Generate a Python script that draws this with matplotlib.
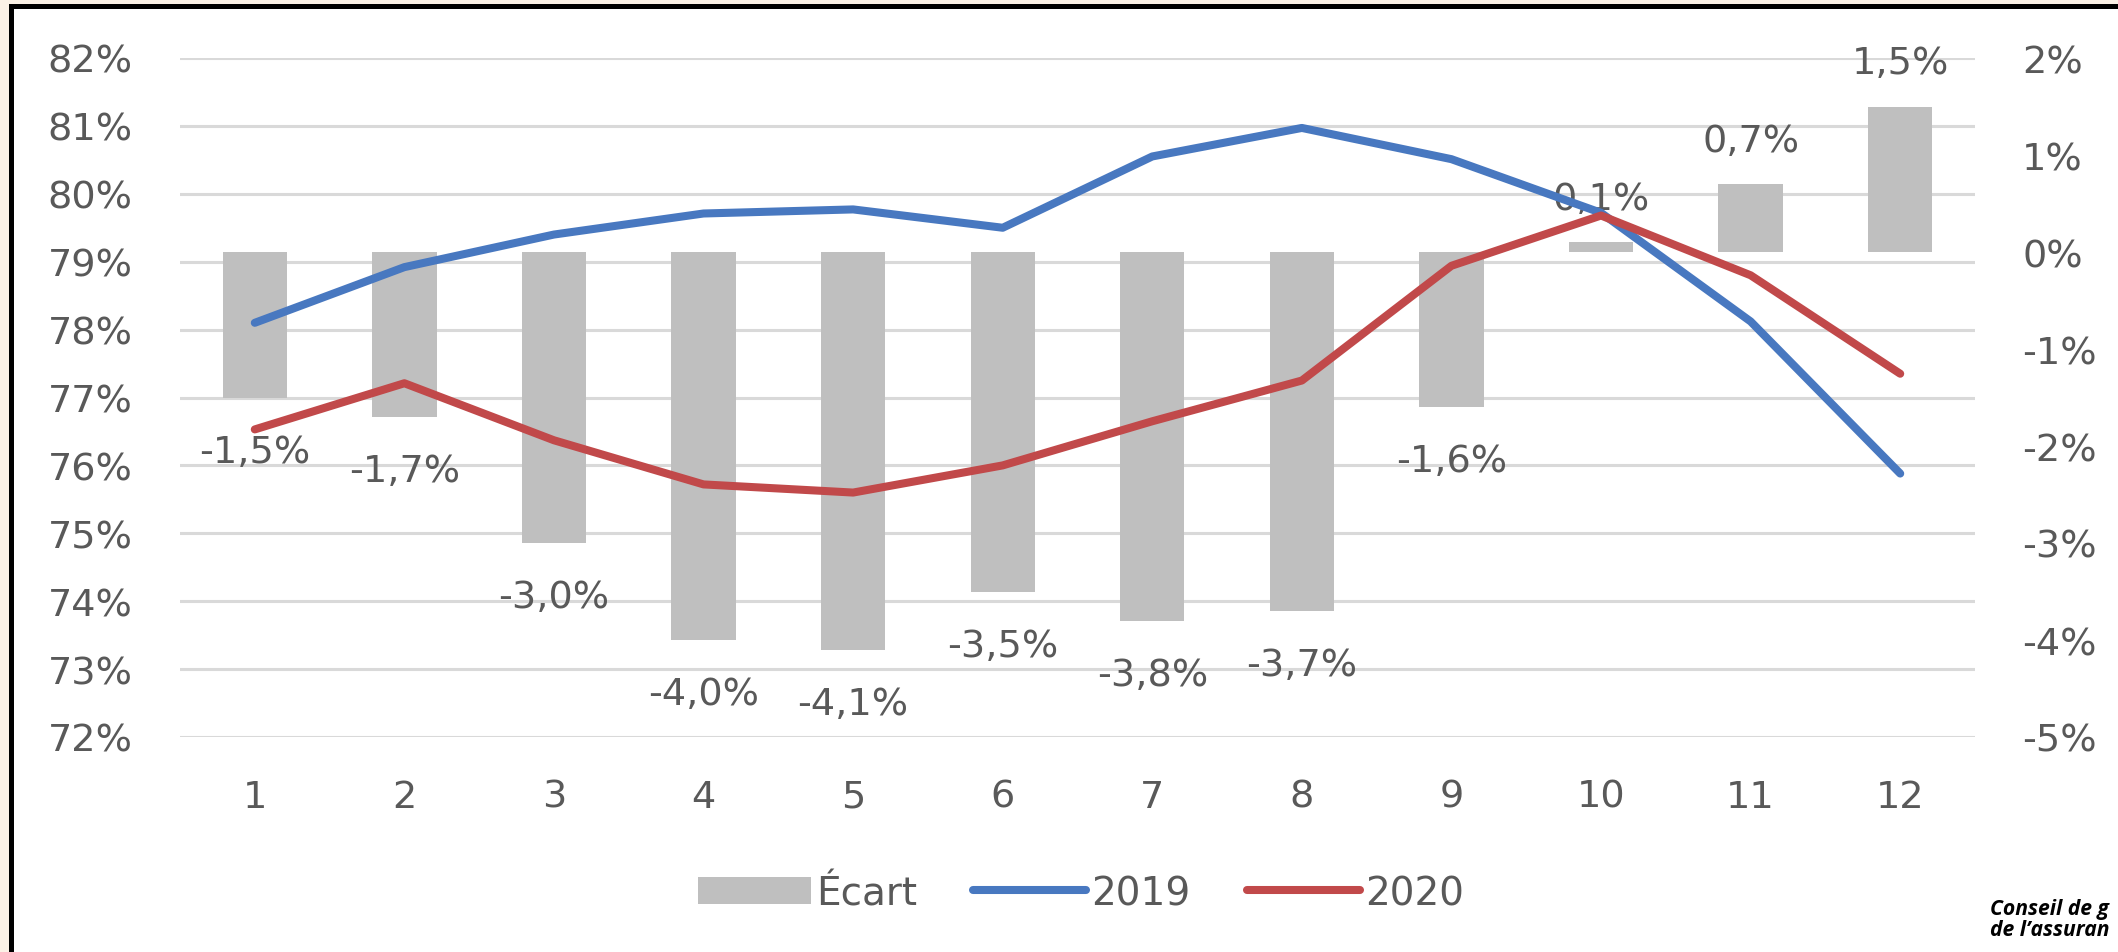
import matplotlib
matplotlib.use('Agg')
import matplotlib.pyplot as plt
from matplotlib.patches import Rectangle, Patch
from matplotlib.lines import Line2D
import matplotlib.ticker as mticker

# ---- data ----
months = ['1', '2', '3', '4', '5', '6', '7', '8', '9', '10', '11', '12']
taux_2019 = [78.10, 78.92, 79.40, 79.71, 79.77, 79.50, 80.55, 80.97, 80.51, 79.72, 78.12, 75.88]
taux_2020 = [76.53, 77.21, 76.37, 75.72, 75.60, 76.00, 76.65, 77.25, 78.94, 79.68, 78.80, 77.35]
ecart = [-1.5, -1.7, -3.0, -4.0, -4.1, -3.5, -3.8, -3.7, -1.6, 0.1, 0.7, 1.5]
left_ticks = [72, 73, 74, 75, 76, 77, 78, 79, 80, 81, 82]
right_ticks = [-5, -4, -3, -2, -1, 0, 1, 2]
series_labels = ['Écart', '2019', '2020']
source_lines = ['Conseil de g', 'de l’assuran']

# ---- style ----
W, H = 2118, 953
DPI = 100
BLUE = '#4878C0'
RED = '#C1494A'
BARC = '#BFBFBF'
GRID = '#D9D9D9'
TXT = '#595959'
FONT = ['DejaVu Sans']
FS = 27.5

fig = plt.figure(figsize=(W / DPI, H / DPI), dpi=DPI)
fig.patch.set_facecolor('#FBF1E6')

# white frame with black border
frame = Rectangle((10.5 / W, -0.1), 1.2, 1.1 - 7 / H, transform=fig.transFigure,
                  facecolor='white', edgecolor='black', linewidth=3.6, zorder=-5)
fig.add_artist(frame)

left = 180 / W
right = 1975 / W
top = 1 - 59 / H
bottom = 1 - 738 / H
ax = fig.add_axes([left, bottom, right - left, top - bottom])
ax2 = ax.twinx()
ax3 = ax.twinx()
for a in (ax, ax2, ax3):
    a.set_facecolor('none')
    for s in a.spines.values():
        s.set_visible(False)

x = list(range(len(months)))

# left axis: gridlines + ticks
ax.set_ylim(left_ticks[0], left_ticks[-1])
ax.set_yticks(left_ticks)
ax.yaxis.set_major_formatter(mticker.FuncFormatter(lambda v, p: f"{v:.0f}%"))
ax.grid(axis='y', color=GRID, linewidth=2.2)
ax.set_axisbelow(True)
ax.set_xlim(-0.5, len(months) - 0.5)
ax.set_xticks(x)
ax.set_xticklabels(months)
ax.tick_params(axis='y', length=0, pad=34, labelsize=FS, labelcolor=TXT)
ax.tick_params(axis='x', length=0, pad=30, labelsize=FS, labelcolor=TXT)
for lab in ax.get_yticklabels() + ax.get_xticklabels():
    lab.set_family(FONT)

# right axis: bars
ax2.set_ylim(right_ticks[0], right_ticks[-1])
ax2.set_yticks(right_ticks)
ax2.yaxis.set_major_formatter(mticker.FuncFormatter(lambda v, p: f"{v:.0f}%"))
ax2.tick_params(axis='y', length=0, pad=34, labelsize=FS, labelcolor=TXT)
for lab in ax2.get_yticklabels():
    lab.set_family(FONT)
ax2.bar(x, ecart, width=0.43, color=BARC, zorder=2)
for xi, v in zip(x, ecart):
    txt = f"{v:.1f}%".replace('.', ',')
    off = 31 if v >= 0 else -39
    ax2.annotate(txt, (xi, v), xytext=(0, off), textcoords='offset points',
                 ha='center', va='center', fontsize=FS, color=TXT,
                 family=FONT, zorder=5)

# lines on top
ax3.set_ylim(left_ticks[0], left_ticks[-1])
ax3.set_yticks([])
ax3.set_xlim(-0.5, len(months) - 0.5)
ax3.plot(x, taux_2019, color=BLUE, linewidth=5.8, solid_joinstyle='round',
         solid_capstyle='round', zorder=3)
ax3.plot(x, taux_2020, color=RED, linewidth=5.8, solid_joinstyle='round',
         solid_capstyle='round', zorder=3)

# legend
handles = [Patch(facecolor=BARC, edgecolor='none'),
           Line2D([0], [0], color=BLUE, linewidth=5.8, solid_capstyle='round'),
           Line2D([0], [0], color=RED, linewidth=5.8, solid_capstyle='round')]
leg = fig.legend(handles, series_labels, loc='center', bbox_to_anchor=(1081 / W, 1 - 894 / H),
                 ncol=3, frameon=False, handlelength=2.9, handleheight=0.72,
                 handletextpad=0.13, columnspacing=1.45, borderpad=0,
                 prop={'family': FONT, 'size': 28})
for t in leg.get_texts():
    t.set_color(TXT)

# source credit (cropped in the original)
fig.text(1990 / W, 1 - 920 / H, "\n".join(source_lines),
         ha='left', va='center', fontsize=15.2, fontweight='bold', fontstyle='italic',
         color='black', linespacing=0.95, family=['Open Sans', 'DejaVu Sans'])

fig.savefig('out.png', dpi=DPI, facecolor=fig.get_facecolor())
